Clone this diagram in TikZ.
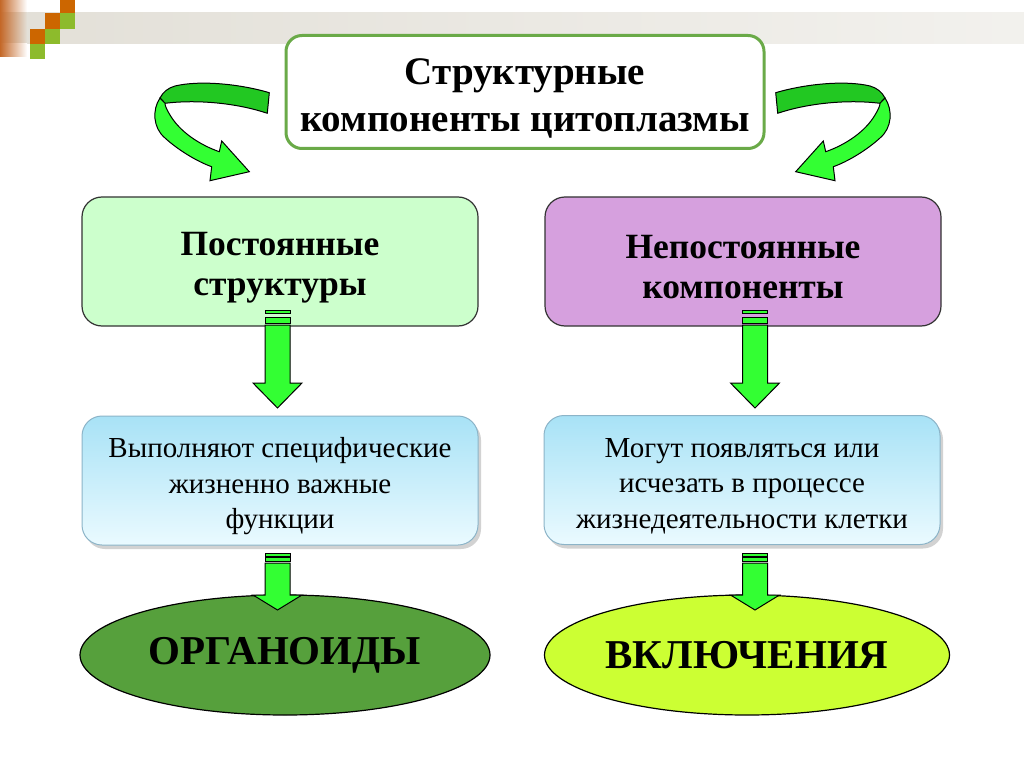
\documentclass[tikz,border=0pt]{standalone}
\usepackage{fontspec}
\setmainfont{Liberation Serif}
\usetikzlibrary{shapes.geometric,shadows,calc}
\definecolor{tgreen}{RGB}{106,170,72}
\definecolor{lgreen}{RGB}{204,255,204}
\definecolor{lilac}{RGB}{214,160,222}
\definecolor{cyanT}{RGB}{168,226,246}
\definecolor{cyanB}{RGB}{234,250,255}
\definecolor{cyanE}{RGB}{140,180,200}
\definecolor{orgG}{RGB}{86,160,60}
\definecolor{incG}{RGB}{204,255,51}
\definecolor{brG}{RGB}{51,255,51}
\definecolor{dkG}{RGB}{34,200,34}
\definecolor{orng}{RGB}{204,102,0}
\definecolor{strp}{RGB}{196,104,40}
\definecolor{sqG}{RGB}{141,187,44}
\definecolor{band}{RGB}{227,224,216}
\tikzset{
  titlebox/.style={draw=tgreen, line width=3pt, rounded corners=16pt, fill=white,
    minimum width=478pt, minimum height=113pt, inner sep=0pt},
  titletext/.style={align=center, inner sep=0pt,
    font=\fontsize{39}{47}\selectfont\bfseries},
  topbox/.style={draw=black!80, line width=1.2pt, rounded corners=20pt,
    minimum width=396pt, minimum height=129pt, inner sep=0pt},
  toptext/.style={align=center, inner sep=0pt,
    font=\fontsize{35.5}{40}\selectfont\bfseries},
  midbox/.style={draw=cyanE, line width=1pt, rounded corners=20pt,
    top color=cyanT, bottom color=cyanB,
    drop shadow={opacity=0.35, shadow xshift=3pt, shadow yshift=-4pt},
    minimum width=396pt, minimum height=129pt, inner sep=0pt},
  midtext/.style={align=center, inner sep=0pt,
    font=\fontsize{29}{35.5}\selectfont},
  resbox/.style={ellipse, draw=black, line width=1.2pt, minimum width=410pt,
    minimum height=120pt, inner sep=0pt, font=\fontsize{41}{45}\selectfont\bfseries},
  arrowst/.style={draw=black, line width=1pt, fill=brG, line join=miter},
  bandst/.style={draw=black, line width=1pt, fill=dkG, line join=round},
}
% cx, stripe1 top, stripe2 top, shaft top, head top, tip
\newcommand\blockdown[6]{%
  \filldraw[arrowst] (#1-12.5,#2) rectangle (#1+12.5,#2+3);
  \filldraw[arrowst] (#1-12.5,#3) rectangle (#1+12.5,#4-2);
  \filldraw[arrowst] (#1-12.5,#4) -- (#1+12.5,#4) -- (#1+12.5,#5) -- (#1+24.5,#5)
     -- (#1,#6) -- (#1-24.5,#5) -- (#1-12.5,#5) -- cycle;
}
\newcommand\curvearrow{%
  \filldraw[bandst] (269.3,92.7) .. controls (240,84) and (200,80) .. (175,86)
     .. controls (168,88) and (163,92) .. (160,98) -- (165,103.3)
     .. controls (200,99) and (240,104) .. (267.3,113.3) -- cycle;
  \filldraw[arrowst] (160,98) .. controls (152,110) and (153,128) .. (165,138)
     .. controls (178,150) and (198,162) .. (211.7,166.7) -- (210,180.7)
     -- (249.3,171.7) -- (221.7,141) -- (219.3,151.7)
     .. controls (200,145) and (180,132) .. (170,115)
     .. controls (167,110) and (165,106) .. (165,103.3) -- cycle;
}
\begin{document}
\begin{tikzpicture}[x=1pt,y=-1pt]
\useasboundingbox (0,0) rectangle (1024,767);
\fill[white] (0,0) rectangle (1024,767);
% header decoration
\shade[left color=band, right color=band!45!white] (26,13) rectangle (1024,44);
\shade[left color=strp, right color=white] (0,0) rectangle (27,13);
\shade[left color=strp, right color=band] (0,13) rectangle (27,44);
\shade[left color=strp, right color=white] (0,44) rectangle (27,57);
\fill[orng] (60,0) rectangle (75,13);
\fill[orng] (45,13) rectangle (60,29);
\fill[sqG] (60,13) rectangle (75,29);
\fill[orng] (30,29) rectangle (45,44);
\fill[sqG] (45,29) rectangle (60,44);
\fill[sqG] (30,44) rectangle (45,59);
% title
\node[titlebox] (title) at (525,92) {};
\node[titletext] (titletxt) at ($(title.center)+(0,6)$) {Структурные\\компоненты цитоплазмы};
% curved arrows
\curvearrow
\begin{scope}[shift={(1045,0)}, xscale=-1]
\curvearrow
\end{scope}
% level boxes
\node[topbox, fill=lgreen] (perm) at (280,261.5) {};
\node[toptext] (permtxt) at ($(perm.center)+(0,6)$) {Постоянные\\структуры};
\node[topbox, fill=lilac] (nonperm) at (743,261.5) {};
\node[toptext] (nonpermtxt) at ($(nonperm.center)+(0,6)$) {Непостоянные\\компоненты};
\node[midbox] (func) at (280,480.5) {};
\node[midtext] (functxt) at ($(func.center)+(0,6)$) {Выполняют специфические\\жизненно важные\\функции};
\node[midbox] (appear) at (742,480) {};
\node[midtext] (appeartxt) at ($(appear.center)+(0,6)$) {Могут появляться или\\исчезать в процессе\\жизнедеятельности клетки};
\node[resbox, fill=orgG] (org) at (285,655) {ОРГАНОИДЫ};
\node[resbox, fill=incG, minimum width=405pt] (inc) at (747,655) {ВКЛЮЧЕНИЯ};
% block arrows
\blockdown{277.5}{310}{317}{325}{383}{408}
\blockdown{755}{310}{317}{325}{383}{408}
\blockdown{277.5}{553}{557}{563}{595}{610}
\blockdown{755}{553}{557}{563}{595}{610}
\end{tikzpicture}
\end{document}
